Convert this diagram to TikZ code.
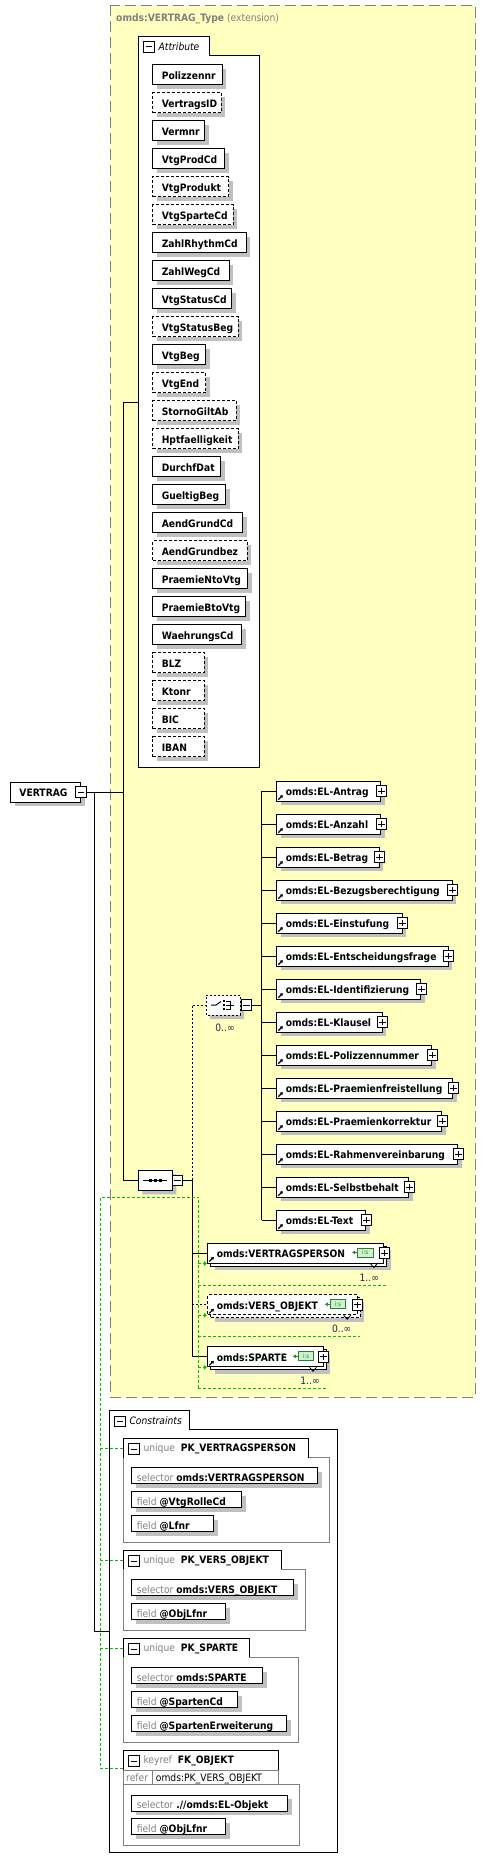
\documentclass[tikz,border=0pt]{standalone}
\usepackage{fontspec}
\setmainfont{DejaVu Sans Condensed}
\usetikzlibrary{shapes.misc,shadows,arrows.meta}
\definecolor{ybg}{HTML}{FFFFC0}
\definecolor{ybd}{HTML}{808080}
\definecolor{shd}{HTML}{C0C0C0}
\definecolor{grn}{HTML}{00C000}
\definecolor{gtx}{HTML}{808080}
\definecolor{lsf}{HTML}{CCF2CC}
\definecolor{lsd}{HTML}{2E7D32}
\definecolor{mul}{HTML}{202850}
\newcommand\bw[3]{\makebox[\dimexpr #2pt-#1pt\relax][l]{\hspace*{9pt}#3}}
\newcommand\rw[4]{\makebox[\dimexpr #2pt-#1pt\relax][l]{\hspace*{5pt}\textcolor{gtx}{#3} \textbf{#4}}}
\tikzset{
  sh/.style={drop shadow={shadow xshift=4pt,shadow yshift=-4pt,fill=shd,opacity=1}},
  bx/.style={draw,line width=1pt,fill=white,inner sep=0pt,minimum height=20,anchor=north west,
    font=\fontsize{10.2}{12}\selectfont\bfseries,text height=9.5,text depth=0pt,sh},
  dbx/.style={bx,dash pattern=on 3pt off 2pt},
  nbx/.style={draw,line width=1pt,fill=white,inner sep=0pt,minimum height=20,anchor=north west,
    font=\fontsize{10.2}{12}\selectfont\bfseries,text height=9.5,text depth=0pt},
  dnbx/.style={nbx,dash pattern=on 3pt off 2pt},
  rwb/.style={draw,line width=1pt,fill=white,inner sep=0pt,minimum height=16,anchor=north west,
    font=\fontsize{10.2}{12}\selectfont,text height=11,text depth=0pt,sh},
  lbl/.style={inner sep=0pt,font=\fontsize{10.2}{12}\selectfont},
  mbox/.style={draw,fill=white,line width=1pt,minimum size=10.5,inner sep=0pt,
    path picture={\draw[line width=1pt] ([xshift=2pt]path picture bounding box.west) -- ([xshift=-2pt]path picture bounding box.east);}},
  pbox/.style={draw,fill=white,line width=1pt,minimum size=10.5,inner sep=0pt,
    path picture={\draw[line width=1pt] ([xshift=2pt]path picture bounding box.west) -- ([xshift=-2pt]path picture bounding box.east);
      \draw[line width=1pt] ([yshift=2pt]path picture bounding box.south) -- ([yshift=-2pt]path picture bounding box.north);}},
  oct/.style={chamfered rectangle,chamfered rectangle xsep=4pt,draw,line width=1pt,fill=white,minimum width=34,minimum height=20,inner sep=0pt,sh},
  con/.style={line width=1pt},
  gd/.style={grn,line width=1pt,dash pattern=on 3pt off 2pt},
  ls/.style={draw=lsd,fill=lsf,line width=0.8pt,minimum width=15.5,minimum height=9,inner sep=0pt,
    font=\fontsize{6}{6}\selectfont,text=lsd},
  mlt/.style={inner sep=0pt,font=\fontsize{10.2}{12}\selectfont,text=mul,anchor=base},
  elarr/.style={line width=1.2pt,-{Triangle[length=2.5pt,width=3.5pt]}}
}
\begin{document}
\begin{tikzpicture}[x=1pt,y=-1pt]
\useasboundingbox (0,0) rectangle (486,1870);
% extension box
\draw[ybd,fill=ybg,line width=1pt,dash pattern=on 11pt off 5pt] (110.3,5.3) rectangle (475.3,1397.3);
\node[lbl,anchor=base west] (ttl) at (116,21.7) {\textcolor{gtx}{\textbf{omds:VERTRAG\_Type} (extension)}};
% attribute container
\draw[line width=1pt,fill=white] (138.3,55.3) -- (138.3,36.3) -- (209.3,36.3) -- (209.3,55.3) -- (259.3,55.3) -- (259.3,767.3) -- (138.3,767.3) -- cycle;
\node[mbox] (atm) at (149,47) {};
\node[lbl,anchor=base west] (att) at (158.5,51) {\itshape Attribute};
\coordinate (attrL) at (138.3,402.3);
\foreach \n/\r/\s [count=\i from 0] in {Polizzennr/221.7/bx,VertragsID/220.7/dbx,Vermnr/204.3/bx,VtgProdCd/224.3/bx,VtgProdukt/228/dbx,VtgSparteCd/232.7/dbx,ZahlRhythmCd/245.7/bx,ZahlWegCd/228.7/bx,VtgStatusCd/231.3/bx,VtgStatusBeg/237.7/dbx,VtgBeg/205.3/bx,VtgEnd/205.3/dbx,StornoGiltAb/235.7/dbx,Hptfaelligkeit/237.7/dbx,DurchfDat/220.3/bx,GueltigBeg/225.3/bx,AendGrundCd/242.3/bx,AendGrundbez/246.7/dbx,PraemieNtoVtg/247.3/bx,PraemieBtoVtg/245.3/bx,WaehrungsCd/241.3/bx,BLZ/203.7/dbx,Ktonr/203.7/dbx,BIC/203.7/dbx,IBAN/203.7/dbx}
  \node[\s] (a\i) at (152.3,64.3+28*\i) {\bw{152.3}{\r}{\n}};
% root
\node[bx] (vt) at (10.3,781.7) {\makebox[69.7pt][l]{\hspace*{8.7pt}VERTRAG}};
\node[mbox] (vtm) at (vt.east) {};
% sequence
\node[oct] (seq) at (155.3,1180.3) {};
\draw[line width=1pt] ([xshift=-12pt]seq.center) -- ([xshift=12pt]seq.center);
\foreach \dx in {-5,0,5} \fill ([xshift=\dx pt]seq.center) +(-1.6,-1.6) rectangle +(1.6,1.6);
\node[mbox] (seqm) at (177.7,1180.3) {};
% choice
\node[oct,dash pattern=on 2pt off 2pt] (chc) at (223,1005) {};
\draw[line width=1pt] ([xshift=-12pt]chc.center) -- ([xshift=-7pt]chc.center) -- ([xshift=-2pt,yshift=3.5pt]chc.center);
\foreach \dy in {-4,0,4} \fill ([xshift=1pt,yshift=\dy pt]chc.center) +(-1.3,-1.3) rectangle +(1.3,1.3);
\draw[line width=1pt] ([xshift=3pt,yshift=4pt]chc.center) -- ([xshift=7pt,yshift=4pt]chc.center) -- ([xshift=7pt,yshift=-4pt]chc.center) -- ([xshift=3pt,yshift=-4pt]chc.center);
\draw[line width=1pt] ([xshift=3pt]chc.center) -- ([xshift=11pt]chc.center);
\node[mbox] (chm) at (246.3,1005) {};
\node[mlt] (chml) at (225,1031) {0..∞};
% EL elements
\coordinate (busx) at (261.7,0);
\foreach \n/\r [count=\i from 0] in {Antrag/380.3,Anzahl/380.3,Betrag/378.7,Bezugsberechtigung/451.7,Einstufung/401.7,Entscheidungsfrage/447.7,Identifizierung/420.3,Klausel/381.7,Polizzennummer/431.3,Praemienfreistellung/452.3,Praemienkorrektur/441.3,Rahmenvereinbarung/457.3,Selbstbehalt/408.3,Text/365.3}{
  \node[bx] (el\i) at (276.3,780.7+33*\i) {\bw{276.3}{\r}{omds:EL-\n}};
  \node[pbox] (elp\i) at (el\i.east) {};
  \draw[elarr] ([shift={(2,-2)}]el\i.south west) -- ++(4.5,-4.5);
  \draw[con] (el\i.west -| busx) -- (el\i.west);
}
\draw[con] (el0.west -| busx) -- (el13.west -| busx);
\draw[con] (chm.east) -- (chm.east -| busx);
% multi elements
\node[bx] (vpb) at (210.3,1245.5) {\makebox[176pt]{}};
\node[nbx] (vp) at (207.3,1242.5) {\bw{207.3}{383.3}{omds:VERTRAGSPERSON}};
\node[pbox] (vpp) at (vp.east) {};
\node[ls] (vpl) at (365.2,1252.5) {i:s};
\node[dbx] (vob) at (210.3,1297.3) {\makebox[149.4pt]{}};
\node[dnbx] (vo) at (207.3,1294.3) {\bw{207.3}{356.7}{omds:VERS\_OBJEKT}};
\node[pbox] (vop) at (vo.east) {};
\node[ls] (vol) at (338,1304.3) {i:s};
\node[bx] (spb) at (210.3,1349.3) {\makebox[115.2pt]{}};
\node[nbx] (sp) at (207.3,1346.3) {\bw{207.3}{322.5}{omds:SPARTE}};
\node[pbox] (spp) at (sp.east) {};
\node[ls] (spl) at (306,1356.3) {i:s};
\foreach \e in {vp,vo,sp}{
  \draw[elarr] ([shift={(2,-2)}]\e.south west) -- ++(4.5,-4.5);
  \draw[line width=0.8pt] ([xshift=-14pt]\e.south east) -- ([xshift=-10.5pt,yshift=-4pt]\e.south east) -- ([xshift=-7pt]\e.south east);
  \draw[lsd,line width=0.8pt,-{Latex[length=3pt,width=4pt]}] (\e l.west) -- ++(-5,0);
  \draw[gd,-{Triangle[length=3pt,width=5pt]}] (\e.south west -| 198.3,0) -- ([xshift=-0.5pt]\e.south west);
  \draw[gd] ([yshift=-21.5pt]\e.south west -| 198.3,0) -- ([xshift=2pt,yshift=-21.5pt]\e.south east);
}
\node[mlt] (vpml) at ([xshift=-15pt,yshift=-17.5pt]vp.south east) {1..∞};
\node[mlt] (voml) at ([xshift=-16pt,yshift=-17.5pt]vo.south east) {0..∞};
\node[mlt] (spml) at ([xshift=-13.5pt,yshift=-17.5pt]sp.south east) {1..∞};
% main connectors
\coordinate (b1) at (123.3,402.3);
\coordinate (sbus) at (192.3,0);
\draw[con] (attrL) -- (b1) -- (b1 |- seq.west) -- (seq.west);
\draw[con] (vtm.east) -- (vtm.east -| b1);
\draw[con] (seqm.east) -- (seqm.east -| sbus) -- (sp.west -| sbus) -- (sp.west);
\draw[con] (vp.west -| sbus) -- (vp.west);
\draw[con,dash pattern=on 2pt off 2pt] (vo.west -| sbus) -- (vo.west);
\draw[con,dash pattern=on 2pt off 2pt] (seqm.east -| sbus) -- (chc.west -| sbus) -- (chc.west);
% green identity lines
\draw[gd] (198.3,1388.3) -- (198.3,1197) -- (100.3,1197) -- (100.3,1768.3);
% constraints
\draw[line width=1pt,fill=white] (109.3,1429.3) -- (109.3,1410.3) -- (189.3,1410.3) -- (189.3,1429.3) -- (337.3,1429.3) -- (337.3,1852.3) -- (109.3,1852.3) -- cycle;
\coordinate (conL) at (109.3,1631);
\draw[con] (vtm.east -| 94.7,0) |- (conL);
\node[mbox] (conm) at (120,1421.3) {};
\node[lbl,anchor=base west] (cont) at (129.3,1424) {\itshape Constraints};
% group frames
\foreach \tt/\tb/\tr/\br/\bb in {1438.3/1457.7/308.3/329.3/1542.3,1550.3/1569.3/281.3/305.3/1630.3,1638.3/1657.3/249.3/298.3/1742.3}{
  \draw[gtx,line width=1pt] (\tr,\tb) -- (\br,\tb) -- (\br,\bb) -- (123.3,\bb) -- (123.3,\tb);
  \draw[line width=1pt] (123.3,\tb) -- (123.3,\tt) -- (\tr,\tt) -- (\tr,\tb);
}
\draw[gtx,line width=1pt] (123.3,1770.3) rectangle (278.3,1784.3);
\draw[gtx,line width=1pt] (152.3,1770.3) -- (152.3,1784.3);
\draw[gtx,line width=1pt] (278.3,1784.3) -- (299.3,1784.3) -- (299.3,1845.3) -- (123.3,1845.3) -- (123.3,1784.3);
\draw[line width=1pt] (123.3,1770.3) -- (123.3,1750.3) -- (278.3,1750.3) -- (278.3,1770.3);
\node[mbox] (g1m) at (134,1449) {};
\node[lbl,anchor=base west] (g1t) at (143.3,1451.7) {\textcolor{gtx}{unique}\hspace{6pt}\textbf{PK\_VERTRAGSPERSON}};
\node[mbox] (g2m) at (134,1561) {};
\node[lbl,anchor=base west] (g2t) at (143.3,1563.7) {\textcolor{gtx}{unique}\hspace{6pt}\textbf{PK\_VERS\_OBJEKT}};
\node[mbox] (g3m) at (134,1649) {};
\node[lbl,anchor=base west] (g3t) at (143.3,1651.7) {\textcolor{gtx}{unique}\hspace{6pt}\textbf{PK\_SPARTE}};
\node[mbox] (g4m) at (134,1761) {};
\node[lbl,anchor=base west] (g4t) at (143.3,1763.7) {\textcolor{gtx}{keyref}\hspace{6pt}\textbf{FK\_OBJEKT}};
\node[lbl,anchor=base west] (g4r) at (126,1781.7) {\textcolor{gtx}{refer}};
\node[lbl,anchor=base west] (g4v) at (155.7,1781.7) {omds:PK\_VERS\_OBJEKT};
% rows
\node[rwb] (r1) at (131.3,1467.3) {\rw{131.3}{317.3}{selector}{omds:VERTRAGSPERSON}};
\node[rwb] (r2) at (131.3,1491.3) {\rw{131.3}{241.3}{field}{@VtgRolleCd}};
\node[rwb] (r3) at (131.3,1515.3) {\rw{131.3}{213.3}{field}{@Lfnr}};
\node[rwb] (r4) at (131.3,1579.3) {\rw{131.3}{293.3}{selector}{omds:VERS\_OBJEKT}};
\node[rwb] (r5) at (131.3,1603.3) {\rw{131.3}{225.3}{field}{@ObjLfnr}};
\node[rwb] (r6) at (131.3,1667.3) {\rw{131.3}{262.3}{selector}{omds:SPARTE}};
\node[rwb] (r7) at (131.3,1691.3) {\rw{131.3}{237.3}{field}{@SpartenCd}};
\node[rwb] (r8) at (131.3,1715.3) {\rw{131.3}{286.3}{field}{@SpartenErweiterung}};
\node[rwb] (r9) at (131.3,1794.7) {\rw{131.3}{287.3}{selector}{.//omds:EL-Objekt}};
\node[rwb] (r10) at (131.3,1818.3) {\rw{131.3}{225.3}{field}{@ObjLfnr}};
% green branches to constraints
\foreach \m/\yy in {g1m/1448.3,g2m/1560.3,g3m/1648.3,g4m/1768.3}
  \draw[gd] (100.3,\yy) -- (123.3,\yy);
\end{tikzpicture}
\end{document}
